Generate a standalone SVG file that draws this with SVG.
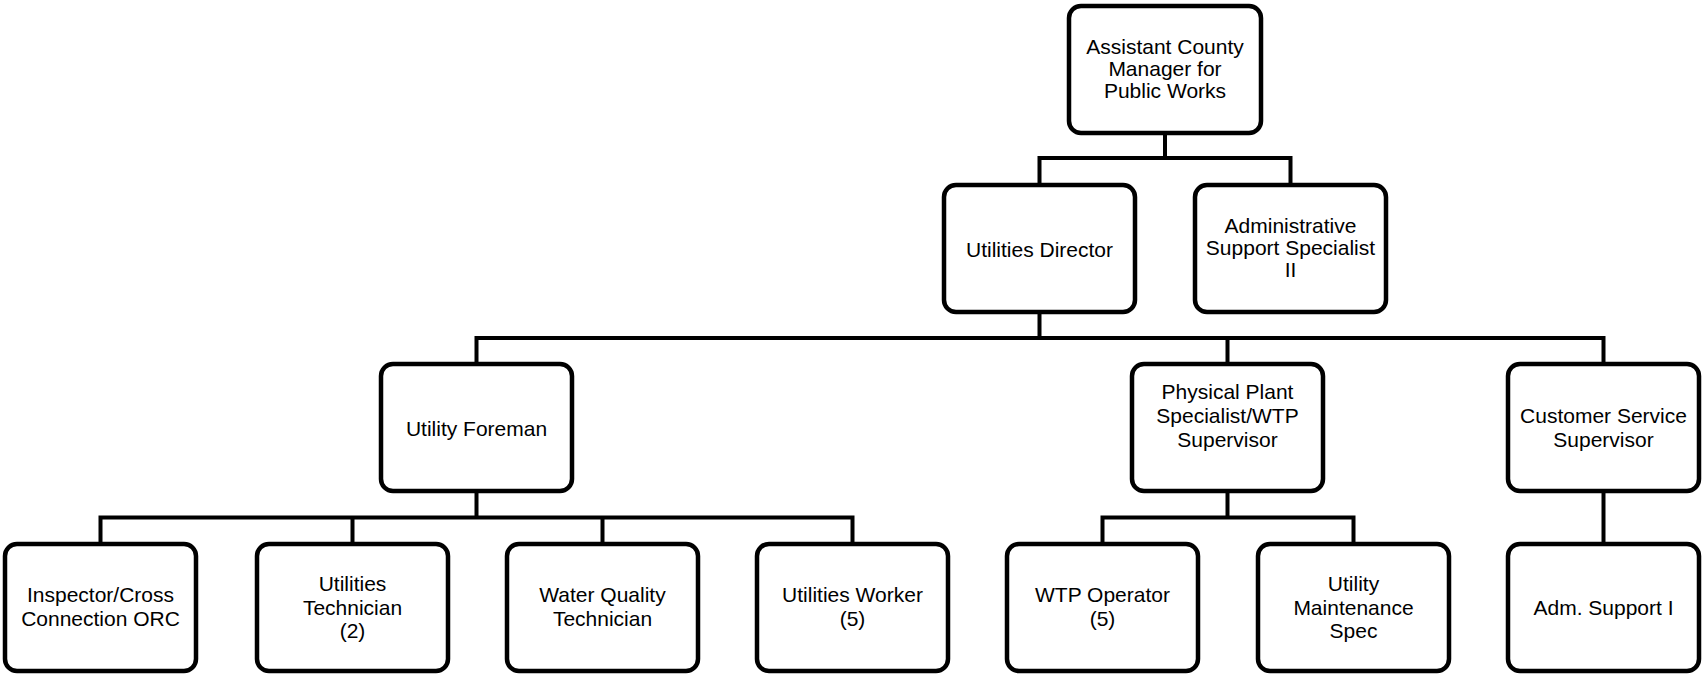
<svg xmlns="http://www.w3.org/2000/svg" width="1702" height="674" viewBox="0 0 1702 674">
<style>
.box{fill:#fff;stroke:#000;stroke-width:4.5}
.lbl{font-family:"Liberation Sans",Arial,sans-serif;font-size:21px;fill:#000;text-anchor:middle}
.con{fill:none;stroke:#000;stroke-width:4;stroke-linejoin:miter}
</style>
<rect width="1702" height="674" fill="#fff"/>
<g id="connectors">
<path class="con" d="M1165 135 V158 M1039.5 183 V158 H1290.5 V183"/>
<path class="con" d="M1039.5 313 V338 M476.5 362 V338 H1603.5 V362 M1227.5 338 V362"/>
<path class="con" d="M476.5 493 V517.5 M100.5 542 V517.5 H852.5 V542 M352.5 517.5 V542 M602.5 517.5 V542"/>
<path class="con" d="M1227.5 493 V517.5 M1102.5 542 V517.5 H1353.5 V542"/>
<path class="con" d="M1603.5 493 V542"/>
</g>
<g id="acm">
<rect class="box" x="1069" y="6" width="192" height="127" rx="12"/>
<text class="lbl" x="1165" y="54">Assistant County</text>
<text class="lbl" x="1165" y="76">Manager for</text>
<text class="lbl" x="1165" y="98">Public Works</text>
</g>
<g id="director">
<rect class="box" x="944" y="185" width="191" height="127" rx="12"/>
<text class="lbl" x="1039.5" y="257">Utilities Director</text>
</g>
<g id="admin">
<rect class="box" x="1195" y="185" width="191" height="127" rx="12"/>
<text class="lbl" x="1290.5" y="233">Administrative</text>
<text class="lbl" x="1290.5" y="254.5">Support Specialist</text>
<text class="lbl" x="1290.5" y="276.5">II</text>
</g>
<g id="foreman">
<rect class="box" x="381" y="364" width="191" height="127" rx="12"/>
<text class="lbl" x="476.5" y="436">Utility Foreman</text>
</g>
<g id="plant">
<rect class="box" x="1132" y="364" width="191" height="127" rx="12"/>
<text class="lbl" x="1227.5" y="399">Physical Plant</text>
<text class="lbl" x="1227.5" y="423">Specialist/WTP</text>
<text class="lbl" x="1227.5" y="447">Supervisor</text>
</g>
<g id="customer">
<rect class="box" x="1508" y="364" width="191" height="127" rx="12"/>
<text class="lbl" x="1603.5" y="423">Customer Service</text>
<text class="lbl" x="1603.5" y="447">Supervisor</text>
</g>
<g id="inspector">
<rect class="box" x="5" y="544" width="191" height="127" rx="12"/>
<text class="lbl" x="100.5" y="602">Inspector/Cross</text>
<text class="lbl" x="100.5" y="626">Connection ORC</text>
</g>
<g id="technician">
<rect class="box" x="257" y="544" width="191" height="127" rx="12"/>
<text class="lbl" x="352.5" y="591">Utilities</text>
<text class="lbl" x="352.5" y="615">Technician</text>
<text class="lbl" x="352.5" y="638">(2)</text>
</g>
<g id="waterquality">
<rect class="box" x="507" y="544" width="191" height="127" rx="12"/>
<text class="lbl" x="602.5" y="602">Water Quality</text>
<text class="lbl" x="602.5" y="626">Technician</text>
</g>
<g id="worker">
<rect class="box" x="757" y="544" width="191" height="127" rx="12"/>
<text class="lbl" x="852.5" y="602">Utilities Worker</text>
<text class="lbl" x="852.5" y="626">(5)</text>
</g>
<g id="wtp">
<rect class="box" x="1007" y="544" width="191" height="127" rx="12"/>
<text class="lbl" x="1102.5" y="602">WTP Operator</text>
<text class="lbl" x="1102.5" y="626">(5)</text>
</g>
<g id="maintenance">
<rect class="box" x="1258" y="544" width="191" height="127" rx="12"/>
<text class="lbl" x="1353.5" y="591">Utility</text>
<text class="lbl" x="1353.5" y="615">Maintenance</text>
<text class="lbl" x="1353.5" y="638">Spec</text>
</g>
<g id="admsupport">
<rect class="box" x="1508" y="544" width="191" height="127" rx="12"/>
<text class="lbl" x="1603.5" y="615">Adm. Support I</text>
</g>
</svg>
